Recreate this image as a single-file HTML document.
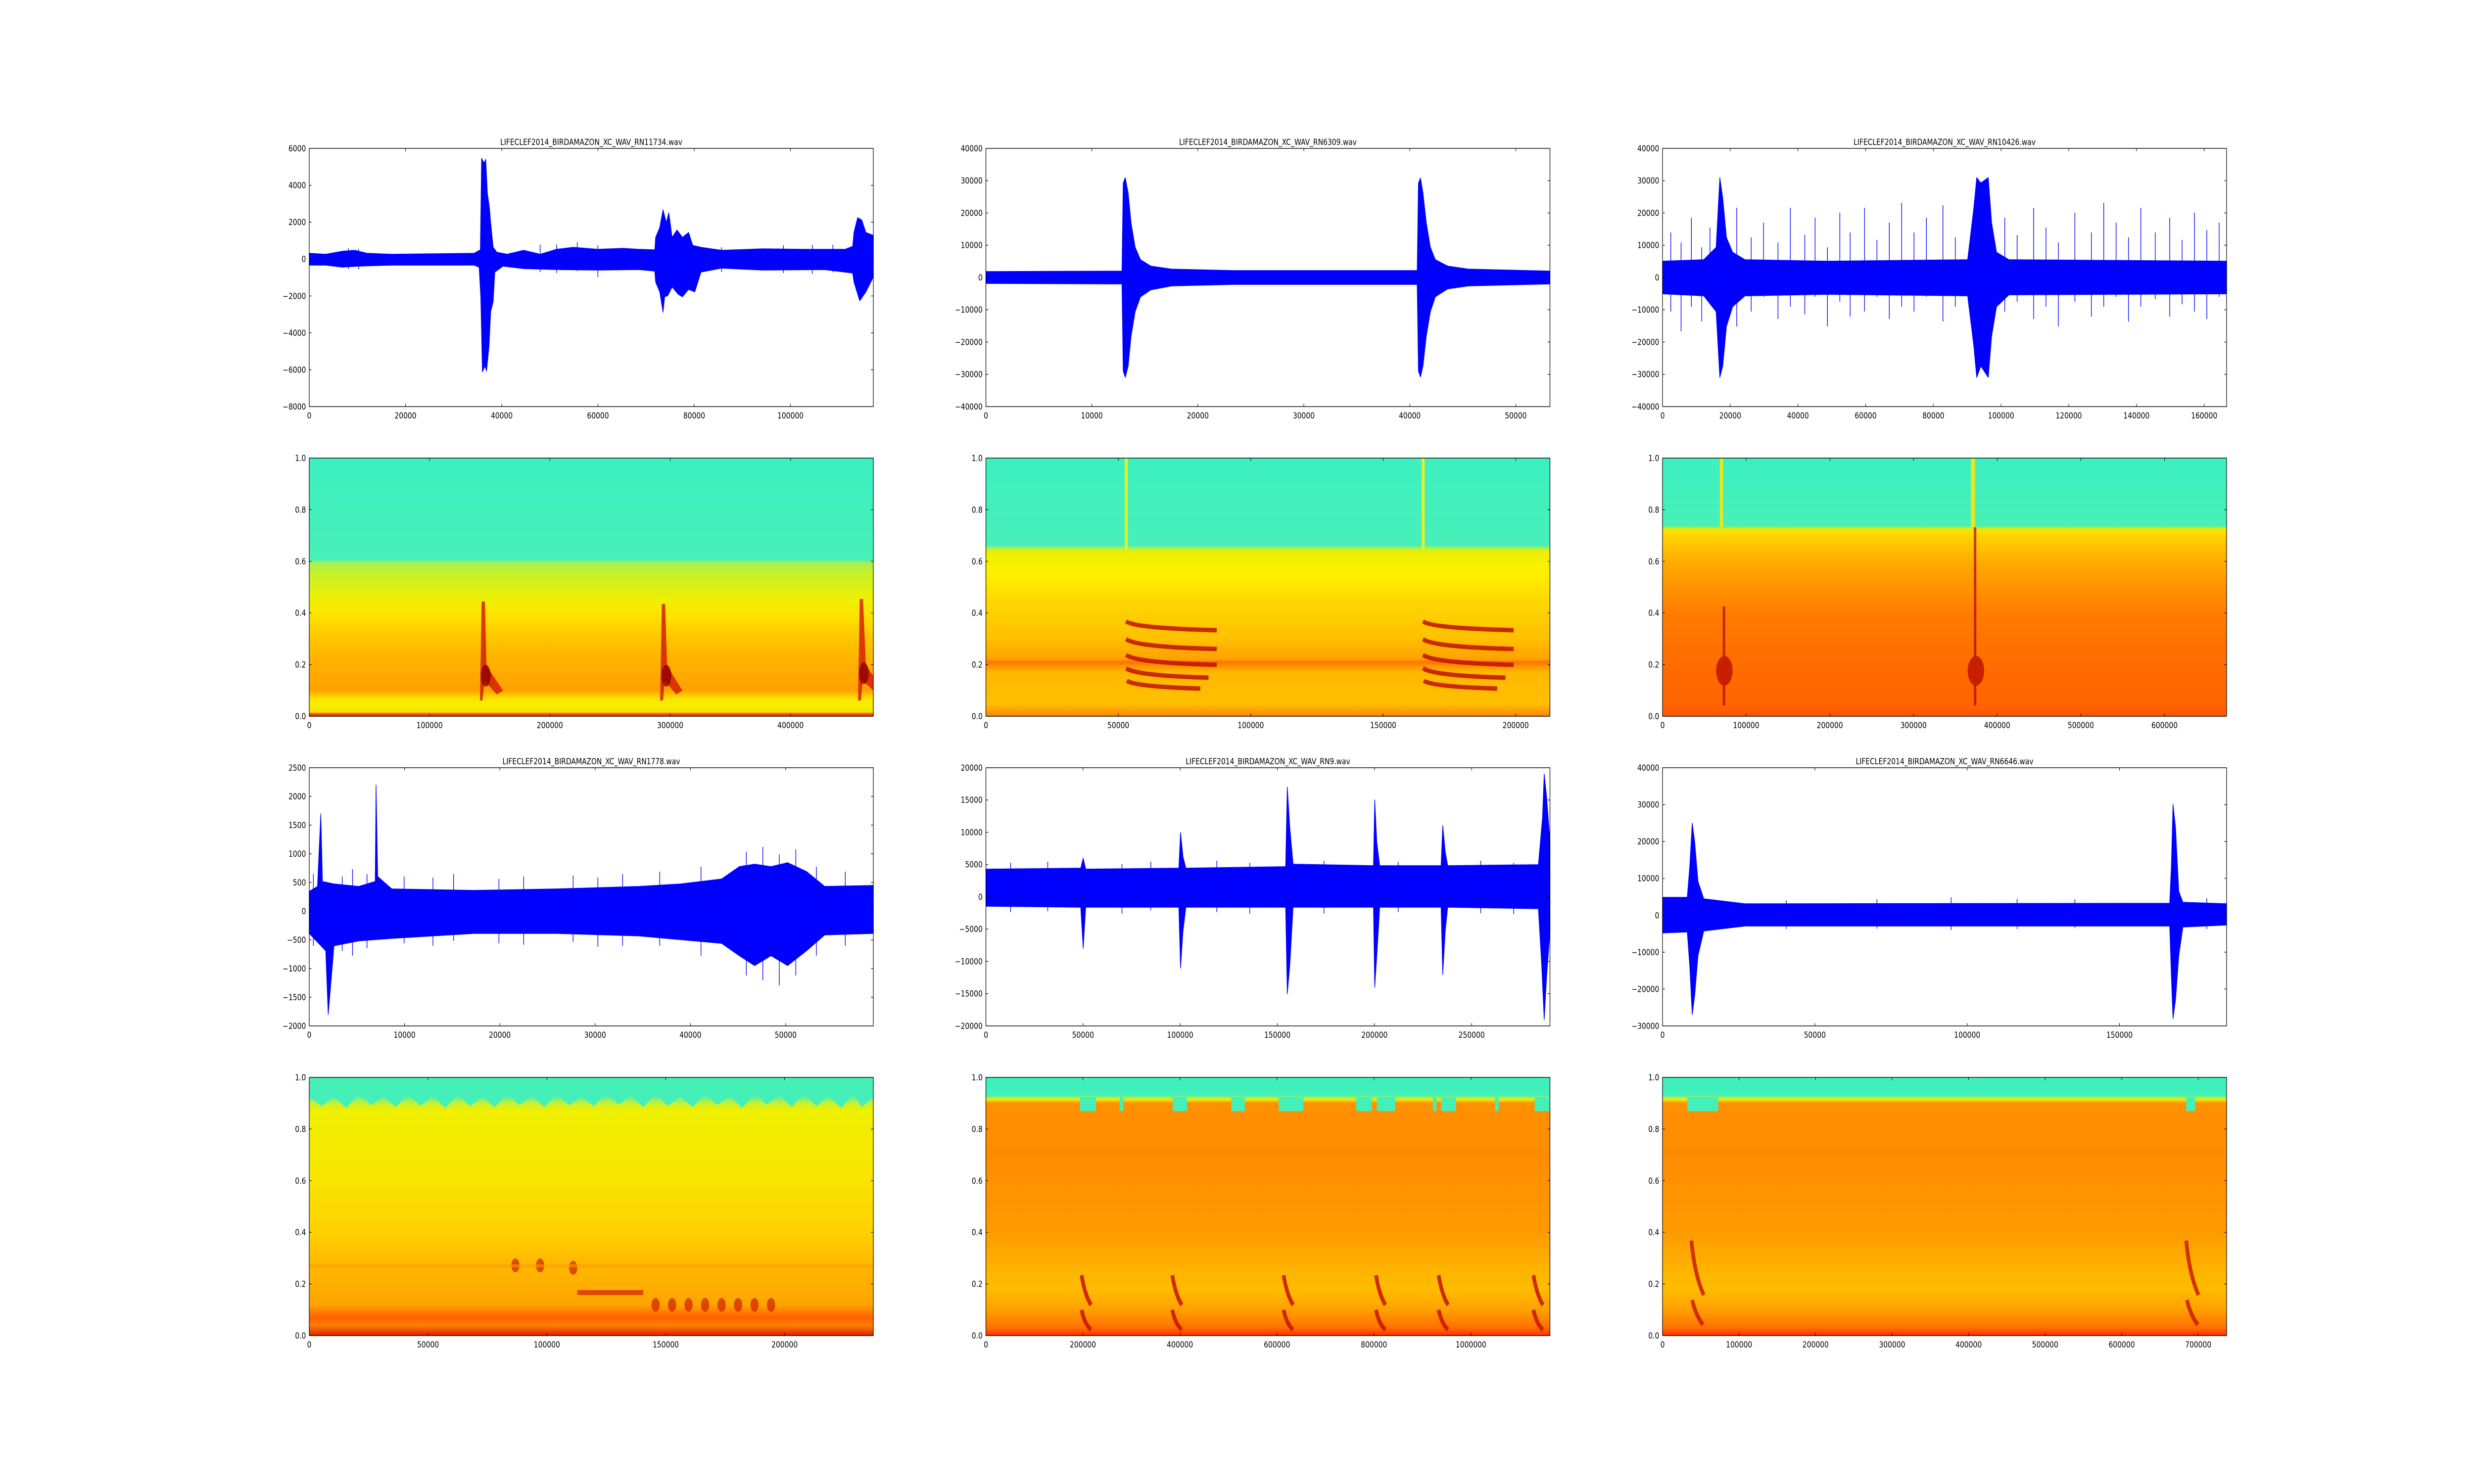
<!DOCTYPE html>
<html><head><meta charset="utf-8"><style>
html,body{margin:0;padding:0;background:#fff;overflow:hidden;width:100%;height:100%}
svg{display:block;width:100vw;height:100vh}
text{font-family:"DejaVu Sans","Liberation Sans",sans-serif;font-size:16.7px;fill:#000}
.yl{text-anchor:end}.xl{text-anchor:middle}.tt{text-anchor:middle}
.ax{fill:none;stroke:#000;stroke-width:1.4}
.tk{fill:none;stroke:#000;stroke-width:1.2}
.w{fill:#0000ff;stroke:#0000ff;stroke-width:1.5;stroke-linejoin:round}
.sp{stroke:#0000ff;stroke-width:1.6;fill:none}
</style></head><body>
<svg viewBox="0 0 6000 3000" preserveAspectRatio="none" xmlns="http://www.w3.org/2000/svg">
<defs>
<linearGradient id="g1" x1="0" y1="0" x2="0" y2="1">
<stop offset="0" stop-color="#3cf0c0"/><stop offset="0.395" stop-color="#48f0b8"/><stop offset="0.405" stop-color="#a8f050"/><stop offset="0.45" stop-color="#c8f028"/><stop offset="0.55" stop-color="#f0f000"/><stop offset="0.62" stop-color="#ffe000"/><stop offset="0.7" stop-color="#ffc400"/><stop offset="0.8" stop-color="#ffb000"/><stop offset="0.9" stop-color="#ffa000"/><stop offset="0.925" stop-color="#ffd800"/><stop offset="0.95" stop-color="#f4f000"/><stop offset="0.984" stop-color="#f8e000"/><stop offset="0.99" stop-color="#ff5000"/><stop offset="1" stop-color="#e83000"/>
</linearGradient>
<linearGradient id="g2" x1="0" y1="0" x2="0" y2="1">
<stop offset="0" stop-color="#3cf0c0"/><stop offset="0.34" stop-color="#48f0b8"/><stop offset="0.35" stop-color="#c0f030"/><stop offset="0.37" stop-color="#f0f000"/><stop offset="0.45" stop-color="#fff000"/><stop offset="0.55" stop-color="#ffd800"/><stop offset="0.7" stop-color="#ffc000"/><stop offset="0.78" stop-color="#ffa000"/><stop offset="0.79" stop-color="#ff7000"/><stop offset="0.805" stop-color="#ff9400"/><stop offset="0.83" stop-color="#ffb800"/><stop offset="0.95" stop-color="#ffc000"/><stop offset="0.98" stop-color="#ffa000"/><stop offset="1" stop-color="#ff8000"/>
</linearGradient>
<linearGradient id="g3" x1="0" y1="0" x2="0" y2="1">
<stop offset="0" stop-color="#3cf0c0"/><stop offset="0.262" stop-color="#48f0b8"/><stop offset="0.275" stop-color="#f0e800"/><stop offset="0.3" stop-color="#ffd400"/><stop offset="0.4" stop-color="#ffac00"/><stop offset="0.5" stop-color="#ff9400"/><stop offset="0.6" stop-color="#ff7c00"/><stop offset="0.8" stop-color="#ff6c00"/><stop offset="0.95" stop-color="#ff6400"/><stop offset="1" stop-color="#ff5800"/>
</linearGradient>
<linearGradient id="g4" x1="0" y1="0" x2="0" y2="1">
<stop offset="0" stop-color="#3cf0c0"/><stop offset="0.07" stop-color="#48f0b8"/><stop offset="0.1" stop-color="#c8f030"/><stop offset="0.13" stop-color="#f0f000"/><stop offset="0.4" stop-color="#f8e400"/><stop offset="0.6" stop-color="#ffd000"/><stop offset="0.7" stop-color="#ffbc00"/><stop offset="0.88" stop-color="#ffa400"/><stop offset="0.93" stop-color="#ff6000"/><stop offset="0.96" stop-color="#ff8000"/><stop offset="1" stop-color="#e02000"/>
</linearGradient>
<linearGradient id="g5" x1="0" y1="0" x2="0" y2="1">
<stop offset="0" stop-color="#3cf0c0"/><stop offset="0.07" stop-color="#44f0b8"/><stop offset="0.085" stop-color="#f0f000"/><stop offset="0.1" stop-color="#ff9000"/><stop offset="0.3" stop-color="#ff8c00"/><stop offset="0.6" stop-color="#ff9a00"/><stop offset="0.75" stop-color="#ffb400"/><stop offset="0.82" stop-color="#ffbc00"/><stop offset="0.9" stop-color="#ffa000"/><stop offset="0.97" stop-color="#ff7000"/><stop offset="1" stop-color="#ff3000"/>
</linearGradient>
</defs>

<!-- A -->
<g transform="translate(750,300)">
<polygon class="w" points="0,212 40,214 80,208 110,206 140,212 200,214 300,213 400,212 415,205 418,20 424,30 428,22 432,90 437,120 440,150 446,200 455,210 480,214 520,206 560,214 600,204 640,200 700,204 760,202 800,204 838,205 840,180 850,160 858,124 866,150 872,130 880,180 892,165 905,180 920,170 930,196 950,200 1000,206 1100,203 1200,204 1300,204 1318,198 1321,170 1330,140 1340,145 1350,170 1368,176 1368,260 1350,290 1335,308 1321,270 1318,252 1250,245 1100,246 1000,242 950,250 935,290 920,285 905,300 895,295 880,280 870,297 862,300 858,331 850,290 840,270 838,248 800,245 700,246 600,245 520,243 470,238 450,250 446,310 440,330 436,400 430,450 426,440 420,452 416,300 412,240 400,236 300,236 200,236 120,238 80,240 40,236 0,236"/>
<path class="sp" d="M95 202V244M120 203V245M560 195V250M600 194V252M650 190V248M700 196V260M1000 200V250M1150 196V252M1220 195V254M1270 195V250"/>
<rect class="ax" x="0" y="0" width="1368" height="522"/>
<path class="tk" d="M0 522v-5.6M233.4 522v-5.6M466.8 522v-5.6M700.2 522v-5.6M933.6 522v-5.6M1167 522v-5.6M233.4 0v5.6M466.8 0v5.6M700.2 0v5.6M933.6 0v5.6M1167 0v5.6M0 74.6h5.6M0 149.1h5.6M0 223.7h5.6M0 298.3h5.6M0 372.9h5.6M0 447.4h5.6M1368 74.6h-5.6M1368 149.1h-5.6M1368 223.7h-5.6M1368 298.3h-5.6M1368 372.9h-5.6M1368 447.4h-5.6"/>
<text class="tt" x="684" y="-7">LIFECLEF2014_BIRDAMAZON_XC_WAV_RN11734.wav</text>
<text class="yl" x="-8" y="6">6000</text><text class="yl" x="-8" y="80.6">4000</text><text class="yl" x="-8" y="155.1">2000</text><text class="yl" x="-8" y="229.7">0</text><text class="yl" x="-8" y="304.3">−2000</text><text class="yl" x="-8" y="378.9">−4000</text><text class="yl" x="-8" y="453.4">−6000</text><text class="yl" x="-8" y="528">−8000</text>
<text class="xl" x="0" y="546">0</text><text class="xl" x="233.4" y="546">20000</text><text class="xl" x="466.8" y="546">40000</text><text class="xl" x="700.2" y="546">60000</text><text class="xl" x="933.6" y="546">80000</text><text class="xl" x="1167" y="546">100000</text>
</g>

<!-- B -->
<g transform="translate(2391,300)">
<polygon class="w" points="0,249 330,248 333,70 338,59 345,90 352,150 362,200 375,225 400,238 450,244 600,247 1046,247 1049,70 1054,60 1060,90 1068,150 1078,200 1090,225 1120,238 1170,244 1368,248 1368,274 1170,278 1120,284 1090,300 1078,330 1068,380 1060,440 1054,462 1049,450 1046,275 600,275 450,278 400,286 375,300 362,330 352,380 345,440 338,463 333,450 330,274 0,273"/>
<rect class="ax" x="0" y="0" width="1368" height="522"/>
<path class="tk" d="M257 522v-5.6M514 522v-5.6M771 522v-5.6M1028 522v-5.6M1285 522v-5.6M257 0v5.6M514 0v5.6M771 0v5.6M1028 0v5.6M1285 0v5.6M0 65.25h5.6M0 130.5h5.6M0 195.75h5.6M0 261h5.6M0 326.25h5.6M0 391.5h5.6M0 456.75h5.6M1368 65.25h-5.6M1368 130.5h-5.6M1368 195.75h-5.6M1368 261h-5.6M1368 326.25h-5.6M1368 391.5h-5.6M1368 456.75h-5.6"/>
<text class="tt" x="684" y="-7">LIFECLEF2014_BIRDAMAZON_XC_WAV_RN6309.wav</text>
<text class="yl" x="-8" y="6">40000</text><text class="yl" x="-8" y="71.25">30000</text><text class="yl" x="-8" y="136.5">20000</text><text class="yl" x="-8" y="201.75">10000</text><text class="yl" x="-8" y="267">0</text><text class="yl" x="-8" y="332.25">−10000</text><text class="yl" x="-8" y="397.5">−20000</text><text class="yl" x="-8" y="462.75">−30000</text><text class="yl" x="-8" y="528">−40000</text>
<text class="xl" x="0" y="546">0</text><text class="xl" x="257" y="546">10000</text><text class="xl" x="514" y="546">20000</text><text class="xl" x="771" y="546">30000</text><text class="xl" x="1028" y="546">40000</text><text class="xl" x="1285" y="546">50000</text>
</g>

<!-- C -->
<g transform="translate(4032,300)">
<polygon class="w" points="0,228 100,225 130,200 139,59 146,100 155,180 170,210 200,225 400,228 740,225 755,120 762,59 772,70 790,59 798,150 810,210 840,225 1368,228 1368,294 840,296 810,320 798,380 790,463 772,440 762,463 755,400 740,298 400,295 200,298 170,320 155,360 146,440 139,463 130,330 100,298 0,294"/>
<path class="sp" d="M20 170V330M45 190V370M70 140V320M95 200V350M115 160V310M180 120V360M215 180V330M245 150V300M280 190V345M310 120V320M345 175V335M370 140V300M400 200V360M430 130V310M455 170V340M490 120V330M520 185V300M550 150V345M580 110V320M610 170V330M640 140V300M680 115V350M710 180V320M830 140V330M860 175V310M900 120V345M930 160V320M960 190V360M1000 130V310M1040 170V340M1070 110V320M1100 150V300M1130 180V350M1160 120V320M1195 170V305M1230 140V340M1260 185V315M1290 130V330M1320 165V345M1350 150V300"/>
<rect class="ax" x="0" y="0" width="1368" height="522"/>
<path class="tk" d="M164.2 522v-5.6M328.4 522v-5.6M492.6 522v-5.6M656.8 522v-5.6M821 522v-5.6M985.2 522v-5.6M1149.4 522v-5.6M1313.6 522v-5.6M164.2 0v5.6M328.4 0v5.6M492.6 0v5.6M656.8 0v5.6M821 0v5.6M985.2 0v5.6M1149.4 0v5.6M1313.6 0v5.6M0 65.25h5.6M0 130.5h5.6M0 195.75h5.6M0 261h5.6M0 326.25h5.6M0 391.5h5.6M0 456.75h5.6M1368 65.25h-5.6M1368 130.5h-5.6M1368 195.75h-5.6M1368 261h-5.6M1368 326.25h-5.6M1368 391.5h-5.6M1368 456.75h-5.6"/>
<text class="tt" x="684" y="-7">LIFECLEF2014_BIRDAMAZON_XC_WAV_RN10426.wav</text>
<text class="yl" x="-8" y="6">40000</text><text class="yl" x="-8" y="71.25">30000</text><text class="yl" x="-8" y="136.5">20000</text><text class="yl" x="-8" y="201.75">10000</text><text class="yl" x="-8" y="267">0</text><text class="yl" x="-8" y="332.25">−10000</text><text class="yl" x="-8" y="397.5">−20000</text><text class="yl" x="-8" y="462.75">−30000</text><text class="yl" x="-8" y="528">−40000</text>
<text class="xl" x="0" y="546">0</text><text class="xl" x="164.2" y="546">20000</text><text class="xl" x="328.4" y="546">40000</text><text class="xl" x="492.6" y="546">60000</text><text class="xl" x="656.8" y="546">80000</text><text class="xl" x="821" y="546">100000</text><text class="xl" x="985.2" y="546">120000</text><text class="xl" x="1149.4" y="546">140000</text><text class="xl" x="1313.6" y="546">160000</text>
</g>

<!-- S1 -->
<g transform="translate(750,926)">
<rect x="0" y="0" width="1368" height="522" fill="url(#g1)"/>
<g fill="#d42000" opacity="0.85">
<path d="M418 290 L426 290 L430 420 L470 470 L455 478 L425 450 L420 490 L414 490 Z"/>
<path d="M855 295 L863 295 L868 420 L905 470 L890 478 L862 450 L858 490 L851 490 Z"/>
<path d="M1335 285 L1343 285 L1350 420 L1368 440 L1368 470 L1342 450 L1338 490 L1331 490 Z"/>
</g>
<g fill="#900000" opacity="0.8">
<ellipse cx="428" cy="440" rx="12" ry="22"/><ellipse cx="866" cy="440" rx="12" ry="22"/><ellipse cx="1345" cy="435" rx="12" ry="22"/>
</g>
<rect class="ax" x="0" y="0" width="1368" height="522"/>
<path class="tk" d="M291.8 522v-5.6M583.6 522v-5.6M875.4 522v-5.6M1167.2 522v-5.6M291.8 0v5.6M583.6 0v5.6M875.4 0v5.6M1167.2 0v5.6M0 104.4h5.6M0 208.8h5.6M0 313.2h5.6M0 417.6h5.6M1368 104.4h-5.6M1368 208.8h-5.6M1368 313.2h-5.6M1368 417.6h-5.6"/>
<text class="yl" x="-8" y="6">1.0</text><text class="yl" x="-8" y="110.4">0.8</text><text class="yl" x="-8" y="214.8">0.6</text><text class="yl" x="-8" y="319.2">0.4</text><text class="yl" x="-8" y="423.6">0.2</text><text class="yl" x="-8" y="528">0.0</text>
<text class="xl" x="0" y="546">0</text><text class="xl" x="291.8" y="546">100000</text><text class="xl" x="583.6" y="546">200000</text><text class="xl" x="875.4" y="546">300000</text><text class="xl" x="1167.2" y="546">400000</text>
</g>

<!-- S2 -->
<g transform="translate(2391,926)">
<rect x="0" y="0" width="1368" height="522" fill="url(#g2)"/>
<rect x="337" y="0" width="7" height="185" fill="#e8f020"/>
<rect x="1057" y="0" width="7" height="185" fill="#e8f020"/>
<g fill="none" stroke="#c01000" stroke-width="9" opacity="0.85">
<path d="M340 330 Q360 344 560 348M340 366 Q365 382 560 386M340 398 Q365 414 560 418M340 425 Q365 440 540 444M342 450 Q360 462 520 466"/>
<path d="M1060 330 Q1080 344 1280 348M1060 366 Q1085 382 1280 386M1060 398 Q1085 414 1280 418M1060 425 Q1085 440 1260 444M1062 450 Q1080 462 1240 466"/>
</g>
<rect class="ax" x="0" y="0" width="1368" height="522"/>
<path class="tk" d="M321.2 522v-5.6M642.4 522v-5.6M963.6 522v-5.6M1284.8 522v-5.6M321.2 0v5.6M642.4 0v5.6M963.6 0v5.6M1284.8 0v5.6M0 104.4h5.6M0 208.8h5.6M0 313.2h5.6M0 417.6h5.6M1368 104.4h-5.6M1368 208.8h-5.6M1368 313.2h-5.6M1368 417.6h-5.6"/>
<text class="yl" x="-8" y="6">1.0</text><text class="yl" x="-8" y="110.4">0.8</text><text class="yl" x="-8" y="214.8">0.6</text><text class="yl" x="-8" y="319.2">0.4</text><text class="yl" x="-8" y="423.6">0.2</text><text class="yl" x="-8" y="528">0.0</text>
<text class="xl" x="0" y="546">0</text><text class="xl" x="321.2" y="546">50000</text><text class="xl" x="642.4" y="546">100000</text><text class="xl" x="963.6" y="546">150000</text><text class="xl" x="1284.8" y="546">200000</text>
</g>

<!-- S3 -->
<g transform="translate(4032,926)">
<rect x="0" y="0" width="1368" height="522" fill="url(#g3)"/>
<rect x="139" y="0" width="8" height="140" fill="#e8e820"/>
<rect x="748" y="0" width="10" height="140" fill="#e8e820"/>
<g fill="#b00000" opacity="0.7">
<ellipse cx="150" cy="430" rx="20" ry="30"/><ellipse cx="760" cy="430" rx="20" ry="30"/>
<rect x="146" y="300" width="6" height="200"/><rect x="755" y="140" width="6" height="360"/>
</g>
<rect class="ax" x="0" y="0" width="1368" height="522"/>
<path class="tk" d="M202.9 522v-5.6M405.8 522v-5.6M608.7 522v-5.6M811.6 522v-5.6M1014.5 522v-5.6M1217.4 522v-5.6M202.9 0v5.6M405.8 0v5.6M608.7 0v5.6M811.6 0v5.6M1014.5 0v5.6M1217.4 0v5.6M0 104.4h5.6M0 208.8h5.6M0 313.2h5.6M0 417.6h5.6M1368 104.4h-5.6M1368 208.8h-5.6M1368 313.2h-5.6M1368 417.6h-5.6"/>
<text class="yl" x="-8" y="6">1.0</text><text class="yl" x="-8" y="110.4">0.8</text><text class="yl" x="-8" y="214.8">0.6</text><text class="yl" x="-8" y="319.2">0.4</text><text class="yl" x="-8" y="423.6">0.2</text><text class="yl" x="-8" y="528">0.0</text>
<text class="xl" x="0" y="546">0</text><text class="xl" x="202.9" y="546">100000</text><text class="xl" x="405.8" y="546">200000</text><text class="xl" x="608.7" y="546">300000</text><text class="xl" x="811.6" y="546">400000</text><text class="xl" x="1014.5" y="546">500000</text><text class="xl" x="1217.4" y="546">600000</text>
</g>

<!-- D -->
<g transform="translate(750,1552)">
<polygon class="w" points="0,250 20,240 28,93 32,230 60,235 120,240 160,230 162,35 166,220 200,245 400,248 600,245 800,240 900,235 1000,225 1043,200 1080,195 1120,200 1160,192 1206,210 1250,240 1368,238 1368,335 1250,338 1206,370 1160,400 1120,380 1080,400 1043,380 1000,355 800,340 600,335 400,335 200,345 120,350 60,360 46,499 40,370 0,335"/>
<path class="sp" d="M10 215V360M80 220V370M105 205V380M140 215V365M230 220V355M300 222V360M350 215V350M460 225V355M520 220V358M640 218V352M700 222V362M760 215V360M850 210V360M950 200V380M1060 170V420M1100 160V430M1140 175V440M1180 165V420M1230 200V380M1300 210V360"/>
<rect class="ax" x="0" y="0" width="1368" height="522"/>
<path class="tk" d="M231.1 522v-5.6M462.2 522v-5.6M693.3 522v-5.6M924.4 522v-5.6M1155.5 522v-5.6M231.1 0v5.6M462.2 0v5.6M693.3 0v5.6M924.4 0v5.6M1155.5 0v5.6M0 58h5.6M0 116h5.6M0 174h5.6M0 232h5.6M0 290h5.6M0 348h5.6M0 406h5.6M0 464h5.6M1368 58h-5.6M1368 116h-5.6M1368 174h-5.6M1368 232h-5.6M1368 290h-5.6M1368 348h-5.6M1368 406h-5.6M1368 464h-5.6"/>
<text class="tt" x="684" y="-7">LIFECLEF2014_BIRDAMAZON_XC_WAV_RN1778.wav</text>
<text class="yl" x="-8" y="6">2500</text><text class="yl" x="-8" y="64">2000</text><text class="yl" x="-8" y="122">1500</text><text class="yl" x="-8" y="180">1000</text><text class="yl" x="-8" y="238">500</text><text class="yl" x="-8" y="296">0</text><text class="yl" x="-8" y="354">−500</text><text class="yl" x="-8" y="412">−1000</text><text class="yl" x="-8" y="470">−1500</text><text class="yl" x="-8" y="528">−2000</text>
<text class="xl" x="0" y="546">0</text><text class="xl" x="231.1" y="546">10000</text><text class="xl" x="462.2" y="546">20000</text><text class="xl" x="693.3" y="546">30000</text><text class="xl" x="924.4" y="546">40000</text><text class="xl" x="1155.5" y="546">50000</text>
</g>

<!-- E -->
<g transform="translate(2391,1552)">
<polygon class="w" points="0,205 230,203 236,183 242,205 468,203 472,131 478,180 485,203 727,200 731,39 737,120 745,195 940,198 943,65 948,150 955,198 1104,198 1108,117 1114,170 1120,198 1340,196 1350,100 1354,13 1360,60 1368,150 1368,330 1360,420 1354,509 1348,400 1340,285 1120,282 1114,330 1108,418 1104,282 955,282 948,380 943,444 940,282 745,282 737,400 731,457 727,282 485,282 478,330 472,405 468,282 242,282 236,365 230,282 0,280"/>
<path class="sp" d="M60 192V292M150 190V290M330 195V295M400 190V288M560 188V292M640 192V295M820 188V295M1000 190V292M1200 188V294M1280 192V296"/>
<rect class="ax" x="0" y="0" width="1368" height="522"/>
<path class="tk" d="M235.6 522v-5.6M471.2 522v-5.6M706.8 522v-5.6M942.4 522v-5.6M1178 522v-5.6M235.6 0v5.6M471.2 0v5.6M706.8 0v5.6M942.4 0v5.6M1178 0v5.6M0 65.25h5.6M0 130.5h5.6M0 195.75h5.6M0 261h5.6M0 326.25h5.6M0 391.5h5.6M0 456.75h5.6M1368 65.25h-5.6M1368 130.5h-5.6M1368 195.75h-5.6M1368 261h-5.6M1368 326.25h-5.6M1368 391.5h-5.6M1368 456.75h-5.6"/>
<text class="tt" x="684" y="-7">LIFECLEF2014_BIRDAMAZON_XC_WAV_RN9.wav</text>
<text class="yl" x="-8" y="6">20000</text><text class="yl" x="-8" y="71.25">15000</text><text class="yl" x="-8" y="136.5">10000</text><text class="yl" x="-8" y="201.75">5000</text><text class="yl" x="-8" y="267">0</text><text class="yl" x="-8" y="332.25">−5000</text><text class="yl" x="-8" y="397.5">−10000</text><text class="yl" x="-8" y="462.75">−15000</text><text class="yl" x="-8" y="528">−20000</text>
<text class="xl" x="0" y="546">0</text><text class="xl" x="235.6" y="546">50000</text><text class="xl" x="471.2" y="546">100000</text><text class="xl" x="706.8" y="546">150000</text><text class="xl" x="942.4" y="546">200000</text><text class="xl" x="1178" y="546">250000</text>
</g>

<!-- F -->
<g transform="translate(4032,1552)">
<polygon class="w" points="0,262 60,262 66,200 72,112 78,150 86,230 100,265 200,275 1230,274 1234,200 1238,74 1244,120 1252,250 1262,272 1368,275 1368,318 1262,322 1252,380 1244,470 1238,507 1234,420 1230,320 200,320 100,330 86,380 78,460 72,499 66,400 60,332 0,334"/>
<path class="sp" d="M300 268V326M520 266V325M700 262V328M860 265V326M1000 266V324M1320 264V326"/>
<rect class="ax" x="0" y="0" width="1368" height="522"/>
<path class="tk" d="M369.4 522v-5.6M738.8 522v-5.6M1108.2 522v-5.6M369.4 0v5.6M738.8 0v5.6M1108.2 0v5.6M0 74.6h5.6M0 149.1h5.6M0 223.7h5.6M0 298.3h5.6M0 372.9h5.6M0 447.4h5.6M1368 74.6h-5.6M1368 149.1h-5.6M1368 223.7h-5.6M1368 298.3h-5.6M1368 372.9h-5.6M1368 447.4h-5.6"/>
<text class="tt" x="684" y="-7">LIFECLEF2014_BIRDAMAZON_XC_WAV_RN6646.wav</text>
<text class="yl" x="-8" y="6">40000</text><text class="yl" x="-8" y="80.6">30000</text><text class="yl" x="-8" y="155.1">20000</text><text class="yl" x="-8" y="229.7">10000</text><text class="yl" x="-8" y="304.3">0</text><text class="yl" x="-8" y="378.9">−10000</text><text class="yl" x="-8" y="453.4">−20000</text><text class="yl" x="-8" y="528">−30000</text>
<text class="xl" x="0" y="546">0</text><text class="xl" x="369.4" y="546">50000</text><text class="xl" x="738.8" y="546">100000</text><text class="xl" x="1108.2" y="546">150000</text>
</g>

<!-- S4a -->
<g transform="translate(750,2178)">
<rect x="0" y="0" width="1368" height="522" fill="url(#g4)"/>
<path fill="#44f0b8" d="M0 0H1368V40L1340 60 1320 35 1290 62 1260 38 1230 58 1200 34 1170 60 1140 36 1110 55 1080 33 1050 62 1020 38 990 56 960 35 930 60 900 40 870 58 840 34 810 60 780 38 750 55 720 33 690 58 660 40 630 56 600 35 570 60 540 38 510 56 480 34 450 60 420 40 390 58 360 36 330 62 300 38 270 58 240 35 210 60 180 40 150 56 120 34 90 62 60 40 30 58 0 40Z"/>
<g fill="#d83000" opacity="0.8">
<ellipse cx="500" cy="380" rx="10" ry="14"/><ellipse cx="560" cy="380" rx="10" ry="14"/><ellipse cx="640" cy="385" rx="10" ry="14"/>
<ellipse cx="840" cy="460" rx="10" ry="14"/><ellipse cx="880" cy="460" rx="10" ry="14"/><ellipse cx="920" cy="460" rx="10" ry="14"/><ellipse cx="960" cy="460" rx="10" ry="14"/><ellipse cx="1000" cy="460" rx="10" ry="14"/><ellipse cx="1040" cy="460" rx="10" ry="14"/><ellipse cx="1080" cy="460" rx="10" ry="14"/><ellipse cx="1120" cy="460" rx="10" ry="14"/>
<rect x="650" y="430" width="160" height="10"/>
</g>
<rect x="0" y="378" width="1368" height="6" fill="#ff9800" opacity="0.6"/>
<rect class="ax" x="0" y="0" width="1368" height="522"/>
<path class="tk" d="M288.2 522v-5.6M576.4 522v-5.6M864.6 522v-5.6M1152.8 522v-5.6M288.2 0v5.6M576.4 0v5.6M864.6 0v5.6M1152.8 0v5.6M0 104.4h5.6M0 208.8h5.6M0 313.2h5.6M0 417.6h5.6M1368 104.4h-5.6M1368 208.8h-5.6M1368 313.2h-5.6M1368 417.6h-5.6"/>
<text class="yl" x="-8" y="6">1.0</text><text class="yl" x="-8" y="110.4">0.8</text><text class="yl" x="-8" y="214.8">0.6</text><text class="yl" x="-8" y="319.2">0.4</text><text class="yl" x="-8" y="423.6">0.2</text><text class="yl" x="-8" y="528">0.0</text>
<text class="xl" x="0" y="546">0</text><text class="xl" x="288.2" y="546">50000</text><text class="xl" x="576.4" y="546">100000</text><text class="xl" x="864.6" y="546">150000</text><text class="xl" x="1152.8" y="546">200000</text>
</g>

<!-- S4b -->
<g transform="translate(2391,2178)">
<rect x="0" y="0" width="1368" height="522" fill="url(#g5)"/>
<g fill="#44f0b8">
<rect x="228" y="40" width="39" height="28"/><rect x="324" y="40" width="10" height="28"/><rect x="453" y="40" width="35" height="28"/><rect x="595" y="40" width="33" height="28"/><rect x="710" y="40" width="60" height="28"/><rect x="898" y="40" width="38" height="28"/><rect x="948" y="40" width="45" height="28"/><rect x="1084" y="40" width="9" height="28"/><rect x="1104" y="40" width="36" height="28"/><rect x="1235" y="40" width="9" height="28"/><rect x="1331" y="40" width="37" height="28"/>
</g>
<g fill="none" stroke="#c81000" stroke-width="9" opacity="0.85">
<path d="M232 400 Q240 440 255 460M232 470 Q240 500 255 510M452 400 Q460 440 475 460M452 470 Q460 500 475 510M722 400 Q730 440 745 460M722 470 Q730 500 745 510M946 400 Q954 440 969 460M946 470 Q954 500 969 510M1098 400 Q1106 440 1121 460M1098 470 Q1106 500 1121 510M1328 400 Q1336 440 1351 460M1328 470 Q1336 500 1351 510"/>
</g>
<rect class="ax" x="0" y="0" width="1368" height="522"/>
<path class="tk" d="M235.3 522v-5.6M470.6 522v-5.6M705.9 522v-5.6M941.2 522v-5.6M1176.5 522v-5.6M235.3 0v5.6M470.6 0v5.6M705.9 0v5.6M941.2 0v5.6M1176.5 0v5.6M0 104.4h5.6M0 208.8h5.6M0 313.2h5.6M0 417.6h5.6M1368 104.4h-5.6M1368 208.8h-5.6M1368 313.2h-5.6M1368 417.6h-5.6"/>
<text class="yl" x="-8" y="6">1.0</text><text class="yl" x="-8" y="110.4">0.8</text><text class="yl" x="-8" y="214.8">0.6</text><text class="yl" x="-8" y="319.2">0.4</text><text class="yl" x="-8" y="423.6">0.2</text><text class="yl" x="-8" y="528">0.0</text>
<text class="xl" x="0" y="546">0</text><text class="xl" x="235.3" y="546">200000</text><text class="xl" x="470.6" y="546">400000</text><text class="xl" x="705.9" y="546">600000</text><text class="xl" x="941.2" y="546">800000</text><text class="xl" x="1176.5" y="546">1000000</text>
</g>

<!-- S4c -->
<g transform="translate(4032,2178)">
<rect x="0" y="0" width="1368" height="522" fill="url(#g5)"/>
<g fill="#44f0b8">
<rect x="60" y="40" width="75" height="28"/><rect x="1270" y="40" width="22" height="28"/>
</g>
<g fill="none" stroke="#c81000" stroke-width="9" opacity="0.8">
<path d="M70 330 Q78 400 100 440M72 450 Q80 480 98 500M1270 330 Q1278 400 1300 440M1272 450 Q1280 480 1298 500"/>
</g>
<rect class="ax" x="0" y="0" width="1368" height="522"/>
<path class="tk" d="M185.6 522v-5.6M371.2 522v-5.6M556.8 522v-5.6M742.4 522v-5.6M928 522v-5.6M1113.6 522v-5.6M1299.2 522v-5.6M185.6 0v5.6M371.2 0v5.6M556.8 0v5.6M742.4 0v5.6M928 0v5.6M1113.6 0v5.6M1299.2 0v5.6M0 104.4h5.6M0 208.8h5.6M0 313.2h5.6M0 417.6h5.6M1368 104.4h-5.6M1368 208.8h-5.6M1368 313.2h-5.6M1368 417.6h-5.6"/>
<text class="yl" x="-8" y="6">1.0</text><text class="yl" x="-8" y="110.4">0.8</text><text class="yl" x="-8" y="214.8">0.6</text><text class="yl" x="-8" y="319.2">0.4</text><text class="yl" x="-8" y="423.6">0.2</text><text class="yl" x="-8" y="528">0.0</text>
<text class="xl" x="0" y="546">0</text><text class="xl" x="185.6" y="546">100000</text><text class="xl" x="371.2" y="546">200000</text><text class="xl" x="556.8" y="546">300000</text><text class="xl" x="742.4" y="546">400000</text><text class="xl" x="928" y="546">500000</text><text class="xl" x="1113.6" y="546">600000</text><text class="xl" x="1299.2" y="546">700000</text>
</g>
</svg>
</body></html>
